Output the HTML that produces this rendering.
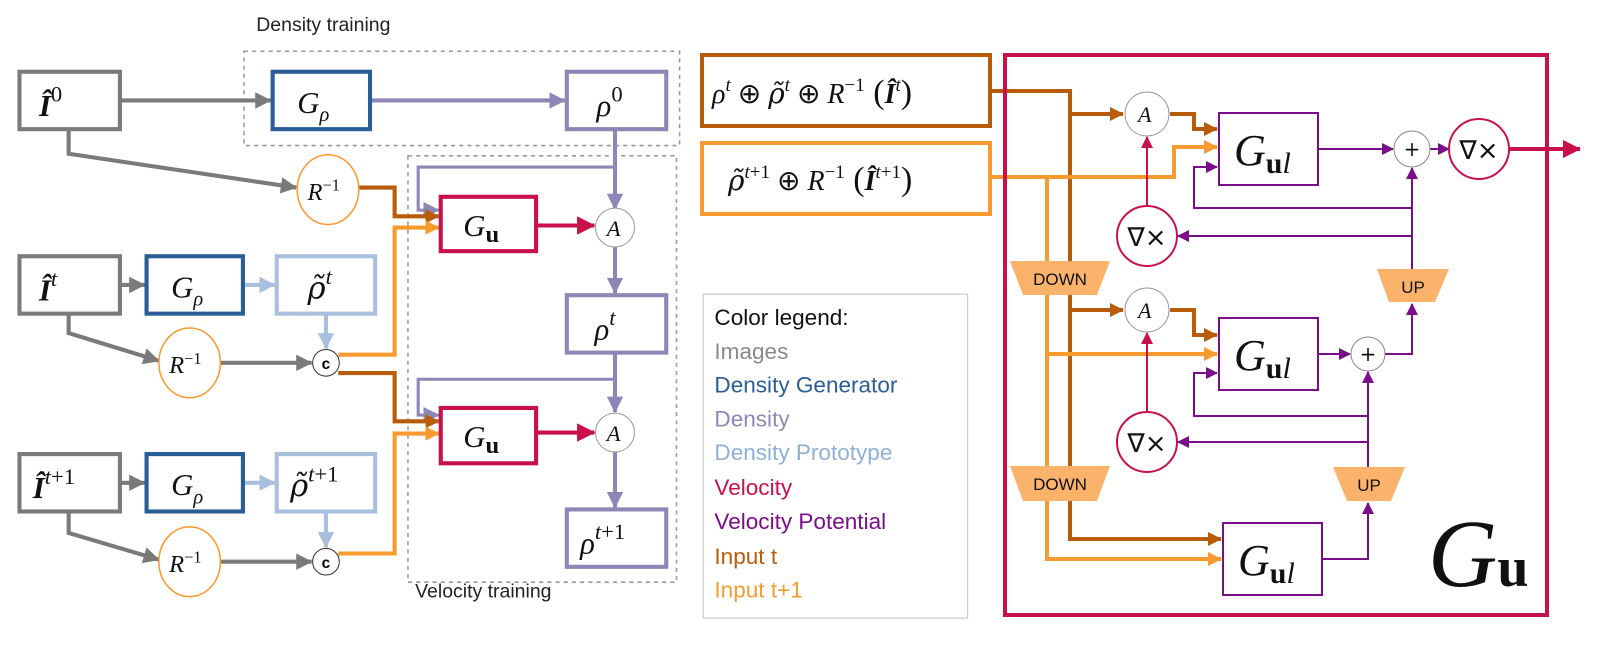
<!DOCTYPE html>
<html><head><meta charset="utf-8"><style>
html,body{margin:0;padding:0;background:#fff;}
svg{display:block;}
.m{font-family:"Liberation Serif",serif;font-style:italic;}
.s{font-family:"Liberation Sans",sans-serif;}
.dj{font-family:"DejaVu Serif",serif;}
</style></head><body>
<svg width="1606" height="654" viewBox="0 0 1606 654" xmlns="http://www.w3.org/2000/svg">
<defs>
<marker id="aG" markerUnits="userSpaceOnUse" markerWidth="16" markerHeight="16" refX="15" refY="8" orient="auto"><path d="M0,0 L16,8 L0,16z" fill="#7a7a7a"/></marker>
<marker id="aP" markerUnits="userSpaceOnUse" markerWidth="16" markerHeight="16" refX="15" refY="8" orient="auto"><path d="M0,0 L16,8 L0,16z" fill="#8c87b6"/></marker>
<marker id="aL" markerUnits="userSpaceOnUse" markerWidth="16" markerHeight="16" refX="15" refY="8" orient="auto"><path d="M0,0 L16,8 L0,16z" fill="#a8c0dd"/></marker>
<marker id="aR" markerUnits="userSpaceOnUse" markerWidth="18" markerHeight="18" refX="17" refY="9" orient="auto"><path d="M0,0 L18,9 L0,18z" fill="#c8104a"/></marker>
<marker id="aB" markerUnits="userSpaceOnUse" markerWidth="14" markerHeight="14" refX="13" refY="7" orient="auto"><path d="M0,0 L14,7 L0,14z" fill="#b85c0a"/></marker>
<marker id="aO" markerUnits="userSpaceOnUse" markerWidth="14" markerHeight="14" refX="13" refY="7" orient="auto"><path d="M0,0 L14,7 L0,14z" fill="#f99a2f"/></marker>
<marker id="aV" markerUnits="userSpaceOnUse" markerWidth="12" markerHeight="12" refX="11" refY="6" orient="auto"><path d="M0,0 L12,6 L0,12z" fill="#7a0d8a"/></marker>
<marker id="aRs" markerUnits="userSpaceOnUse" markerWidth="12" markerHeight="12" refX="11" refY="6" orient="auto"><path d="M0,0 L12,6 L0,12z" fill="#c8104a"/></marker>
</defs>

<g transform="scale(1.025)">
<rect x="238" y="50" width="425" height="92" fill="none" stroke="#999" stroke-width="1.5" stroke-dasharray="4,4"/>
<rect x="398" y="152" width="262" height="416" fill="none" stroke="#999" stroke-width="1.5" stroke-dasharray="4,4"/>
<text x="250" y="30" class="s" font-size="19" fill="#222">Density training</text>
<text x="405" y="583" class="s" font-size="19" fill="#222">Velocity training</text>

<g fill="none" stroke-width="4">
<path d="M117,98 H264" stroke="#7a7a7a" marker-end="url(#aG)"/>
<path d="M361,98 H551" stroke="#8c87b6" marker-end="url(#aP)"/>
<path d="M67,126 V150 L289,183" stroke="#7a7a7a" marker-end="url(#aG)"/>
<path d="M600,126 V204" stroke="#8c87b6" marker-end="url(#aP)"/>
<path d="M600,163 H408 V205 H428" stroke="#8c87b6" stroke-width="3" marker-end="url(#aP)"/>
<path d="M350,183 H385 V211 H428" stroke="#b85c0a" marker-end="url(#aB)"/>
<path d="M330,346 H385 V222 H428" stroke="#f99a2f" marker-end="url(#aO)"/>
<path d="M523,220 H580" stroke="#c8104a" marker-end="url(#aR)"/>
<path d="M600,240 V286" stroke="#8c87b6" marker-end="url(#aP)"/>
<path d="M600,344 V402" stroke="#8c87b6" marker-end="url(#aP)"/>
<path d="M600,370 H408 V405 H428" stroke="#8c87b6" stroke-width="3" marker-end="url(#aP)"/>
<path d="M330,364 H385 V411 H428" stroke="#b85c0a" marker-end="url(#aB)"/>
<path d="M330,540 H385 V423 H428" stroke="#f99a2f" marker-end="url(#aO)"/>
<path d="M523,422 H580" stroke="#c8104a" marker-end="url(#aR)"/>
<path d="M600,440 V495" stroke="#8c87b6" marker-end="url(#aP)"/>
<path d="M117,278 H141" stroke="#7a7a7a" marker-end="url(#aG)"/>
<path d="M237,278 H268" stroke="#a8c0dd" marker-end="url(#aL)"/>
<path d="M318,306 V340" stroke="#a8c0dd" marker-end="url(#aL)"/>
<path d="M67,306 V325 L155,352" stroke="#7a7a7a" marker-end="url(#aG)"/>
<path d="M215,354 H304" stroke="#7a7a7a" marker-end="url(#aG)"/>
<path d="M117,471 H141" stroke="#7a7a7a" marker-end="url(#aG)"/>
<path d="M237,471 H268" stroke="#a8c0dd" marker-end="url(#aL)"/>
<path d="M318,499 V534" stroke="#a8c0dd" marker-end="url(#aL)"/>
<path d="M67,499 V520 L155,546" stroke="#7a7a7a" marker-end="url(#aG)"/>
<path d="M215,548 H304" stroke="#7a7a7a" marker-end="url(#aG)"/>
</g>

<g fill="#fff" stroke-width="4">
<rect x="19" y="70" width="98" height="56" stroke="#7a7a7a"/>
<rect x="266" y="70" width="95" height="56" stroke="#2a5d96"/>
<rect x="553" y="70" width="97" height="56" stroke="#8c87b6"/>
<rect x="430" y="192" width="93" height="53" stroke="#c8104a"/>
<rect x="553" y="288" width="97" height="56" stroke="#8c87b6"/>
<rect x="430" y="398" width="93" height="54" stroke="#c8104a"/>
<rect x="553" y="497" width="97" height="56" stroke="#8c87b6"/>
<rect x="19" y="250" width="98" height="56" stroke="#7a7a7a"/>
<rect x="143" y="250" width="94" height="56" stroke="#2a5d96"/>
<rect x="270" y="250" width="96" height="56" stroke="#a8c0dd"/>
<rect x="19" y="443" width="98" height="56" stroke="#7a7a7a"/>
<rect x="143" y="443" width="94" height="56" stroke="#2a5d96"/>
<rect x="270" y="443" width="96" height="56" stroke="#a8c0dd"/>
</g>
<g fill="#fff" stroke-width="1.5">
<ellipse cx="320" cy="185" rx="30" ry="34" stroke="#f99a2f"/>
<ellipse cx="185" cy="354" rx="30" ry="34" stroke="#f99a2f"/>
<ellipse cx="185" cy="548" rx="30" ry="34" stroke="#f99a2f"/>
<circle cx="600" cy="222" r="19" stroke="#999" stroke-width="1"/>
<circle cx="600" cy="422" r="19" stroke="#999" stroke-width="1"/>
<circle cx="318" cy="354" r="13" stroke="#333" stroke-width="1"/>
<circle cx="318" cy="548" r="13" stroke="#333" stroke-width="1"/>
</g>
<g class="m" fill="#111" font-size="30">
<text x="38" y="113"><tspan font-weight="bold">Î</tspan><tspan dy="-14" font-size="22" font-style="normal">0</tspan></text>
<text x="38" y="293"><tspan font-weight="bold">Î</tspan><tspan dy="-14" font-size="22">t</tspan></text>
<text x="32" y="486"><tspan font-weight="bold">Î</tspan><tspan dy="-14" font-size="22">t</tspan><tspan font-size="22" font-style="normal">+1</tspan></text>
<text x="290" y="110">G<tspan dy="8" font-size="20">ρ</tspan></text>
<text x="167" y="290">G<tspan dy="8" font-size="20">ρ</tspan></text>
<text x="167" y="483">G<tspan dy="8" font-size="20">ρ</tspan></text>
<text x="582" y="113">ρ<tspan dy="-14" font-size="22" font-style="normal">0</tspan></text>
<text x="580" y="331">ρ<tspan dy="-14" font-size="22">t</tspan></text>
<text x="566" y="540">ρ<tspan dy="-14" font-size="22">t</tspan><tspan font-size="22" font-style="normal">+1</tspan></text>
<text x="300" y="291"><tspan class="dj" font-style="italic">ρ̃</tspan><tspan dy="-14" font-size="22">t</tspan></text>
<text x="283" y="484"><tspan class="dj" font-style="italic">ρ̃</tspan><tspan dy="-14" font-size="22">t</tspan><tspan font-size="22" font-style="normal">+1</tspan></text>
<text x="452" y="230">G<tspan dy="6" font-size="24" font-weight="bold" font-style="normal">u</tspan></text>
<text x="452" y="436">G<tspan dy="6" font-size="24" font-weight="bold" font-style="normal">u</tspan></text>
<text x="592" y="230" font-size="22">A</text>
<text x="592" y="430" font-size="22">A</text>
<text x="300" y="195" font-size="24">R<tspan dy="-9" font-size="16" font-style="normal">−1</tspan></text>
<text x="165" y="364" font-size="24">R<tspan dy="-9" font-size="16" font-style="normal">−1</tspan></text>
<text x="165" y="558" font-size="24">R<tspan dy="-9" font-size="16" font-style="normal">−1</tspan></text>
</g>
<text x="318" y="360" class="s" font-size="15" font-weight="bold" text-anchor="middle">c</text>
<text x="318" y="554" class="s" font-size="15" font-weight="bold" text-anchor="middle">c</text>

<rect x="686" y="287" width="258" height="316" fill="#fff" stroke="#ccc" stroke-width="1.2"/>
<g class="s" font-size="22">
<text x="697" y="317" fill="#111">Color legend:</text>
<text x="697" y="350" fill="#8a8a8a">Images</text>
<text x="697" y="383" fill="#2a5d96">Density Generator</text>
<text x="697" y="416" fill="#8c87b6">Density</text>
<text x="697" y="449" fill="#8fb0d6">Density Prototype</text>
<text x="697" y="483" fill="#c8104a">Velocity</text>
<text x="697" y="516" fill="#7a0d8a">Velocity Potential</text>
<text x="697" y="550" fill="#b85c0a">Input t</text>
<text x="697" y="583" fill="#f99a2f">Input t+1</text>
</g>
</g>

<g fill="none" stroke-width="4">
<path d="M990,91 H1070 V539 H1221" stroke="#b85c0a" marker-end="url(#aB)"/>
<path d="M1070,114 H1123" stroke="#b85c0a" marker-end="url(#aB)"/>
<path d="M1070,310 H1123" stroke="#b85c0a" marker-end="url(#aB)"/>
<path d="M1170,114 H1194 V129 H1217" stroke="#b85c0a" marker-end="url(#aB)"/>
<path d="M1170,310 H1194 V335 H1217" stroke="#b85c0a" marker-end="url(#aB)"/>
<path d="M990,177 H1174 V147 H1217" stroke="#f99a2f" marker-end="url(#aO)"/>
<path d="M1047,177 V559 H1221" stroke="#f99a2f" marker-end="url(#aO)"/>
<path d="M1047,354 H1217" stroke="#f99a2f" marker-end="url(#aO)"/>
</g>
<g fill="none" stroke="#7a0d8a" stroke-width="2">
<path d="M1318,149 H1393" marker-end="url(#aV)"/>
<path d="M1430,149 H1449" marker-end="url(#aV)"/>
<path d="M1412,269 V168" marker-end="url(#aV)"/>
<path d="M1412,208 H1194 V167 H1217" marker-end="url(#aV)"/>
<path d="M1412,236 H1178" marker-end="url(#aV)"/>
<path d="M1368,354 H1412 V304" marker-end="url(#aV)"/>
<path d="M1318,354 H1350" marker-end="url(#aV)"/>
<path d="M1368,467 V372" marker-end="url(#aV)"/>
<path d="M1368,416 H1194 V373 H1217" marker-end="url(#aV)"/>
<path d="M1368,442 H1178" marker-end="url(#aV)"/>
<path d="M1322,559 H1368 V503" marker-end="url(#aV)"/>
</g>
<g fill="none" stroke="#c8104a" stroke-width="2">
<path d="M1147,206 V137" marker-end="url(#aRs)"/>
<path d="M1147,412 V333" marker-end="url(#aRs)"/>
</g>
<path d="M1509,149 H1580" stroke="#c8104a" stroke-width="4" fill="none" marker-end="url(#aR)"/>
<g fill="#fbb36b">
<polygon points="1010,261 1110,261 1097,295 1023,295"/>
<polygon points="1010,466 1110,466 1097,501 1023,501"/>
<polygon points="1377,269 1449,269 1435,302 1389,302"/>
<polygon points="1333,467 1405,467 1391,501 1347,501"/>
</g>
<g class="s" font-size="17" fill="#111" text-anchor="middle">
<text x="1060" y="285">DOWN</text>
<text x="1060" y="490">DOWN</text>
<text x="1413" y="293">UP</text>
<text x="1369" y="491">UP</text>
</g>
<g fill="#fff" stroke-width="4">
<rect x="702" y="55" width="288" height="71" stroke="#b85c0a"/>
<rect x="702" y="143" width="288" height="71" stroke="#f99a2f"/>
<rect x="1005" y="55" width="542" height="560" fill="none" stroke="#c8104a"/>
</g>
<g fill="#fff" stroke-width="2">
<rect x="1219" y="113" width="99" height="72" stroke="#7a0d8a"/>
<rect x="1219" y="318" width="99" height="72" stroke="#7a0d8a"/>
<rect x="1223" y="523" width="99" height="72" stroke="#7a0d8a"/>
<circle cx="1147" cy="114" r="22" stroke="#999" stroke-width="1"/>
<circle cx="1147" cy="310" r="22" stroke="#999" stroke-width="1"/>
<circle cx="1147" cy="236" r="30" stroke="#c8104a"/>
<circle cx="1147" cy="442" r="30" stroke="#c8104a"/>
<circle cx="1479" cy="149" r="30" stroke="#c8104a"/>
<circle cx="1412" cy="149" r="18" stroke="#888" stroke-width="1"/>
<circle cx="1368" cy="354" r="17" stroke="#888" stroke-width="1"/>
</g>
<g class="m" fill="#111">
<text x="712" y="103" font-size="28">ρ<tspan dy="-12" font-size="19">t</tspan><tspan dy="12" font-style="normal"> ⊕ </tspan><tspan class="dj" font-style="italic">ρ̃</tspan><tspan dy="-12" font-size="19">t</tspan><tspan dy="12" font-style="normal"> ⊕ </tspan>R<tspan dy="-12" font-size="19" font-style="normal">−1</tspan><tspan dy="12" font-style="normal" font-size="34"> (</tspan><tspan font-weight="bold">Î</tspan><tspan dy="-12" font-size="19">t</tspan><tspan dy="12" font-style="normal" font-size="34">)</tspan></text>
<text x="728" y="190" font-size="28"><tspan class="dj" font-style="italic">ρ̃</tspan><tspan dy="-12" font-size="19">t</tspan><tspan font-size="19" font-style="normal">+1</tspan><tspan dy="12" font-style="normal"> ⊕ </tspan>R<tspan dy="-12" font-size="19" font-style="normal">−1</tspan><tspan dy="12" font-style="normal" font-size="34"> (</tspan><tspan font-weight="bold">Î</tspan><tspan dy="-12" font-size="19">t</tspan><tspan font-size="19" font-style="normal">+1</tspan><tspan dy="12" font-style="normal" font-size="34">)</tspan></text>
<text x="1234" y="165" font-size="44">G<tspan dy="8" font-size="30" font-weight="bold" font-style="normal">u</tspan><tspan font-size="30">l</tspan></text>
<text x="1234" y="370" font-size="44">G<tspan dy="8" font-size="30" font-weight="bold" font-style="normal">u</tspan><tspan font-size="30">l</tspan></text>
<text x="1238" y="575" font-size="44">G<tspan dy="8" font-size="30" font-weight="bold" font-style="normal">u</tspan><tspan font-size="30">l</tspan></text>
<text x="1138" y="122" font-size="22">A</text>
<text x="1138" y="318" font-size="22">A</text>
<text x="1428" y="586" font-size="96">G<tspan font-size="56" font-weight="bold" font-style="normal">u</tspan></text>
</g>
<g font-family="DejaVu Sans,sans-serif" fill="#111">
<text x="1147" y="246" font-size="26" text-anchor="middle">∇×</text>
<text x="1147" y="452" font-size="26" text-anchor="middle">∇×</text>
<text x="1479" y="159" font-size="26" text-anchor="middle">∇×</text>
<text x="1412" y="156" font-size="20" text-anchor="middle">+</text>
<text x="1368" y="361" font-size="20" text-anchor="middle">+</text>
</g>
</svg>
</body></html>
